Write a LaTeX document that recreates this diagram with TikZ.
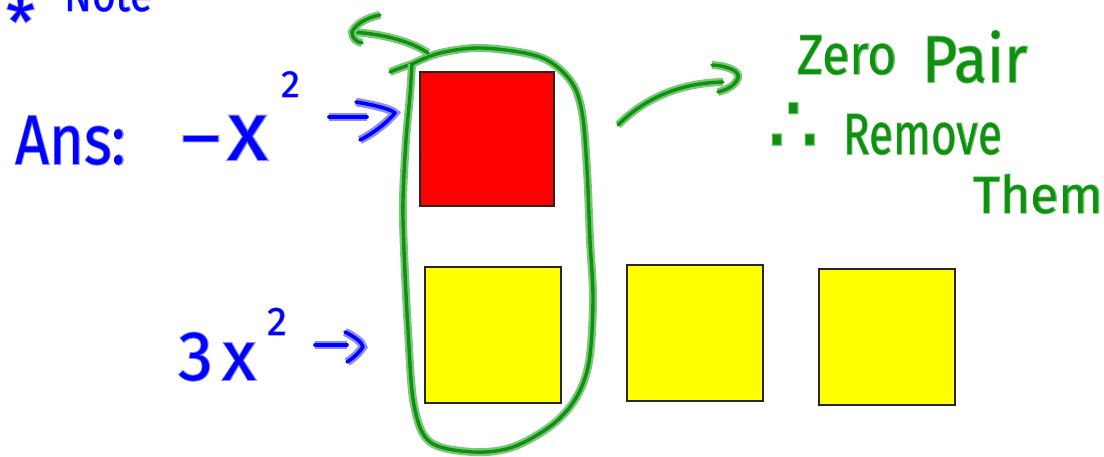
\documentclass[tikz,border=0pt]{standalone}
\usepackage{fontspec}
\setmainfont{Fira Sans}
\newfontfamily\textink{Fira Sans}
\newfontfamily\texthalo[FakeBold=2.6]{Fira Sans}
\newfontfamily\symink{DejaVu Sans}
\newfontfamily\symhalo[FakeBold=2.6]{DejaVu Sans}
\definecolor{bink}{RGB}{0,0,255}
\definecolor{bhalo}{RGB}{140,140,255}
\definecolor{gink}{RGB}{15,145,15}
\definecolor{ghalo}{RGB}{120,200,120}
\definecolor{tilered}{RGB}{255,0,0}
\definecolor{tileyellow}{RGB}{255,255,0}
\tikzset{
  bink/.style={text=bink, anchor=base west, inner sep=0pt},
  bhalo/.style={text=bhalo, anchor=base west, inner sep=0pt},
  gink/.style={text=gink, anchor=base west, inner sep=0pt},
  ghalo/.style={text=ghalo, anchor=base west, inner sep=0pt},
  bpen/.style={draw=bink, line width=3.6pt, line cap=round, line join=round,
    preaction={draw=bhalo, line width=8.5pt}},
  gpen/.style={draw=gink, line width=3.4pt, line cap=round, line join=round,
    preaction={draw=ghalo, line width=8pt}},
  tile/.style={draw=black!85, line width=2pt, minimum size=136pt, inner sep=0pt}
}
% pen-style label: a stroked, lighter copy underneath, then the ink on top
% #1 extra options, #2 b/g, #3 name, #4 position, #5 size, #6 text/sym, #7 text
\newcommand\inktext[7]{%
  \node[#2halo, #1, font=\csname #6halo\endcsname\fontsize{#5}{#5}\selectfont] at (#4) {#7};
  \node[#2ink, #1, font=\csname #6ink\endcsname\fontsize{#5}{#5}\selectfont] (#3) at (#4) {#7};
}
\begin{document}
\begin{tikzpicture}[x=1pt, y=-1pt]
  \fill[white] (0,0) rectangle (1104,456);
  \useasboundingbox (0,0) rectangle (1104,456);
  \clip (0,0) rectangle (1104,456);

  % algebra tiles
  \node[tile, fill=tilered, minimum size=134pt] (neg) at (487,139) {};
  \node[tile, fill=tileyellow] (pos1) at (492.5,334.5) {};
  \node[tile, fill=tileyellow] (pos2) at (694.5,333) {};
  \node[tile, fill=tileyellow] (pos3) at (886.5,336.5) {};

  % note at the top edge
  \inktext{}{b}{star}{6,46}{66}{text}{*}
  \inktext{xscale=0.85}{b}{note}{64,11}{48}{text}{Note}

  % answer label
  \inktext{xscale=0.85}{b}{ans}{15,164}{70}{text}{Ans:}
  \inktext{xscale=1.3}{b}{minus}{178,162}{70}{text}{−}
  \inktext{}{b}{ansx}{227,160}{84}{text}{x}
  \inktext{}{b}{anssq}{281,97}{38}{text}{2}
  \coordinate (a1s) at (329,117);
  \coordinate (a1e) at (367,117);
  \draw[bpen] (a1s) -- (a1e);
  \draw[bpen] (356,102) .. controls (380,106) and (392,110) .. (395,113)
    .. controls (385,125) and (370,135) .. (360,140);

  % three positive tiles label
  \inktext{}{b}{three}{178,380}{70}{text}{3}
  \inktext{}{b}{threex}{222,380}{70}{text}{x}
  \inktext{}{b}{threesq}{267,335}{40}{text}{2}
  \coordinate (a2s) at (315,345);
  \coordinate (a2e) at (347,345);
  \draw[bpen] (a2s) -- (a2e);
  \draw[bpen] (345,332) .. controls (355,337) and (362,342) .. (363,347)
    .. controls (358,354) and (352,359) .. (347,362);

  % loop round the zero pair
  \draw[gpen] (390,72) .. controls (400,68) and (406,66) .. (412,64);
  \draw[gpen] plot[smooth, tension=0.55] coordinates {
    (412,64) (440,53) (483,48) (540,57) (570,80) (582,112) (587,170)
    (590,240) (593,300) (589,362) (576,398) (552,425) (513,447)
    (473,452) (430,442) (414,405) (408,330) (404,250) (403,200)
    (406,140) (410,95) (412,64)};

  % arrow leaving the loop to the upper left
  \coordinate (l1) at (428,53);
  \coordinate (l2) at (352,32);
  \draw[gpen] (l1) .. controls (412,42) and (385,34) .. (l2);
  \draw[gpen] (380,15) .. controls (365,18) and (355,25) .. (l2)
    .. controls (352,38) and (356,42) .. (362,43);

  % arrow to the remark on the right
  \coordinate (r1) at (618,125);
  \coordinate (r2) at (723,82);
  \draw[gpen] (r1) .. controls (645,98) and (680,83) .. (r2);
  \draw[gpen] (712,65) .. controls (730,66) and (740,72) .. (738,78)
    .. controls (735,86) and (726,90) .. (718,92);

  % remark
  \inktext{xscale=0.9}{g}{zero}{797,74}{56}{text}{Zero}
  \inktext{xscale=0.92}{g}{pair}{922,82}{66}{text}{Pair}
  \inktext{xscale=1.1, yscale=1.15}{g}{so}{768,153}{72}{sym}{∴}
  \inktext{xscale=0.76}{g}{remove}{843,154}{58}{text}{Remove}
  \inktext{}{g}{them}{973,213}{52}{text}{Them}
\end{tikzpicture}
\end{document}
